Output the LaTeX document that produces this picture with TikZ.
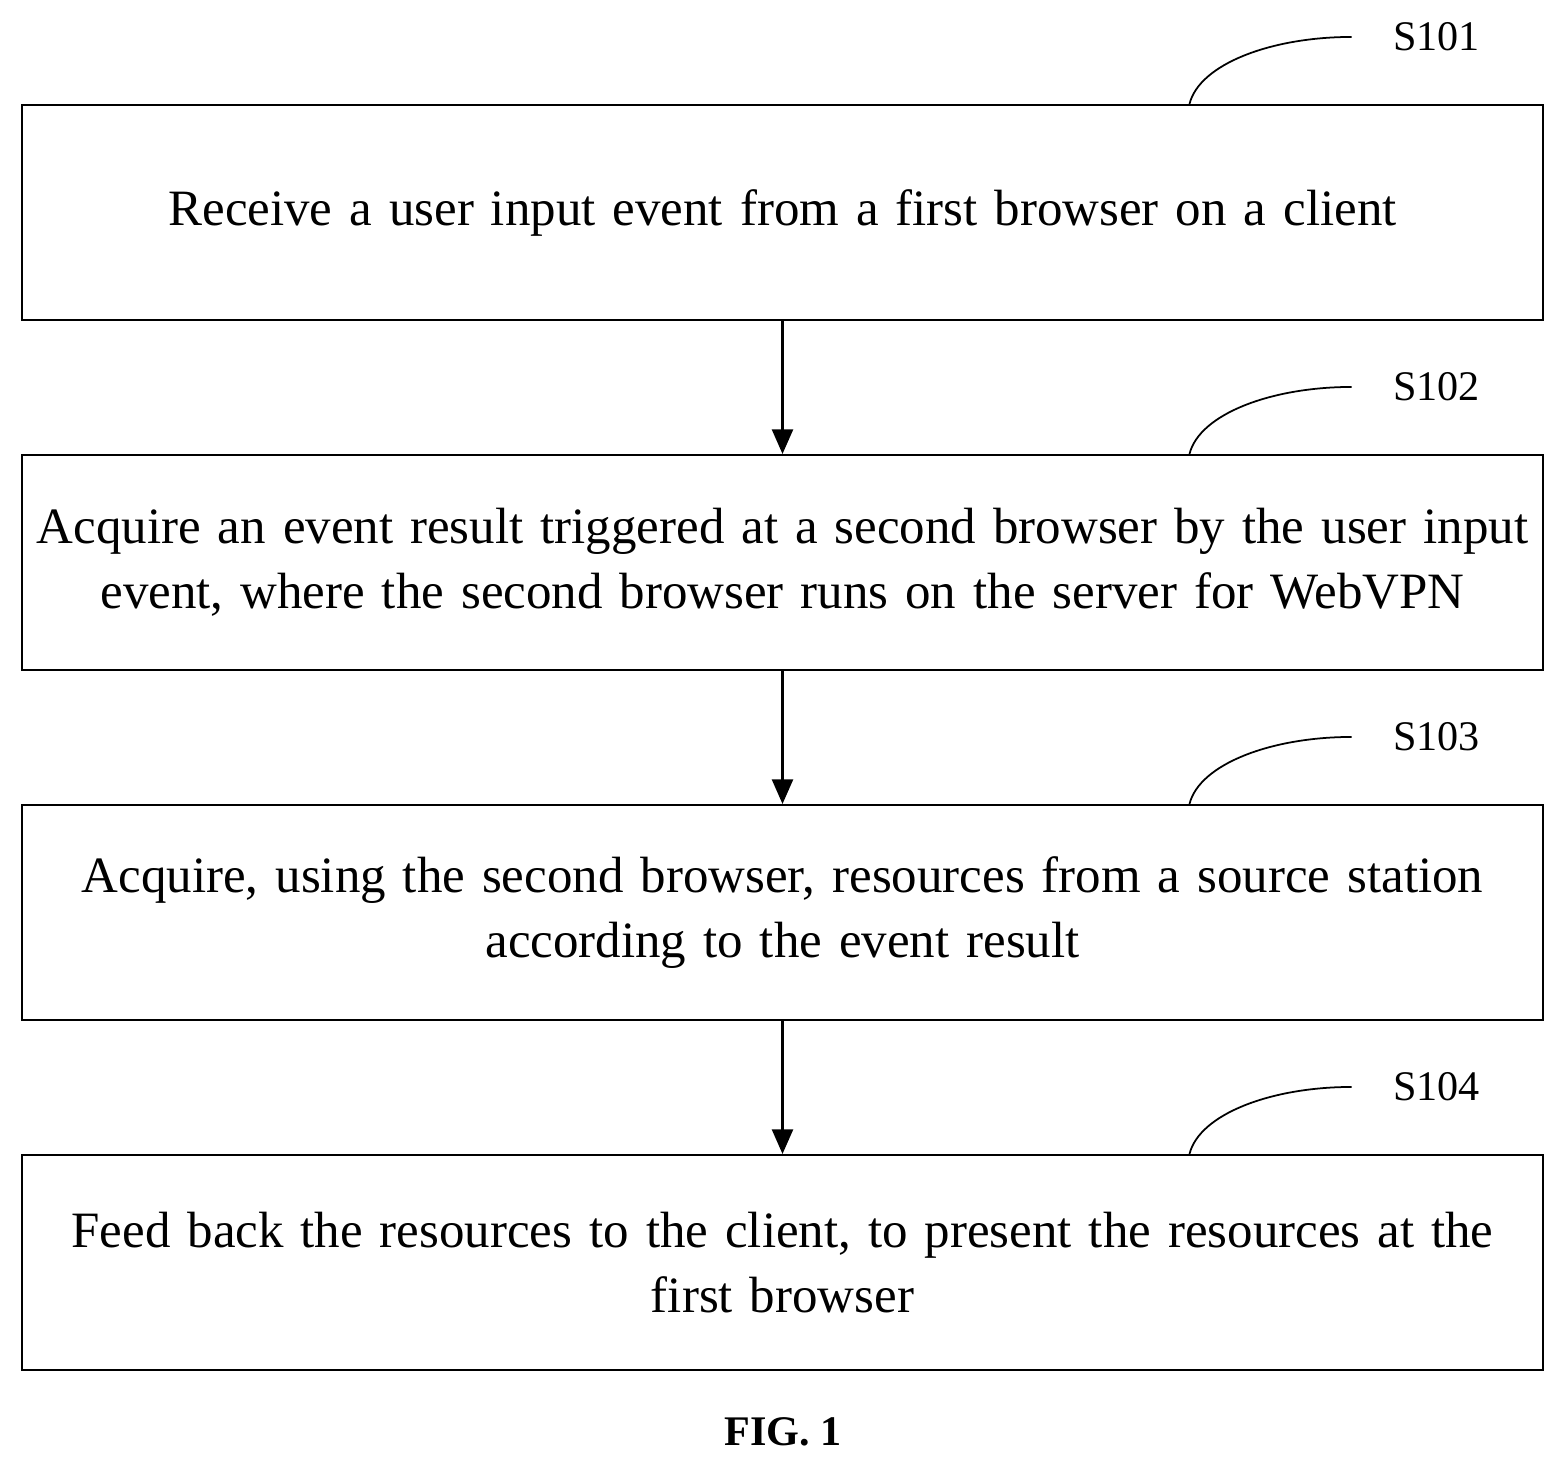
\documentclass[tikz,border=0pt]{standalone}
\usepackage{fontspec}
\setmainfont{Liberation Serif}
\usetikzlibrary{positioning,arrows.meta}
\begin{document}
\begin{tikzpicture}[x=0.02cm,y=-0.02cm,
    stepbox/.style={draw,line width=1.2pt,minimum width=1521*0.02cm,minimum height=215*0.02cm,
      align=center,text width=1521*0.02cm,font=\fontsize{29}{37}\selectfont,inner sep=0pt},
    tag/.style={font=\fontsize{24}{28}\selectfont},
    flow/.style={-{Triangle[length=14pt,width=12pt]},line width=1.2pt}
  ]
  \useasboundingbox (0,0) rectangle (1565,1468);
  \node[stepbox] (s1) at (782.5,212.5) {Receive a user input event from a first browser on a client};
  \node[stepbox] (s2) at (782.5,562.5) {Acquire an event result triggered at a second browser by the user input\\ event, where the second browser runs on the server for WebVPN};
  \node[stepbox] (s3) at (782.5,912.5) {Acquire, using the second browser, resources from a source station\\ according to the event result};
  \node[stepbox] (s4) at (782.5,1262.5) {Feed back the resources to the client, to present the resources at the\\ first browser};
  \foreach \a/\b in {s1/s2,s2/s3,s3/s4}
    \draw[flow] (\a.south) -- (\b.north);
  \foreach \s/\n in {s1/101,s2/102,s3/103,s4/104} {
    \node[tag] (l\n) at ([xshift=654*0.02cm,yshift=67*0.02cm]\s.north) {S\n};
    \draw[line width=1pt] ([xshift=407*0.02cm]\s.north) .. controls +(10,-40) and +(-80,0) .. ([xshift=-85*0.02cm]l\n.center);
  }
  \node[font=\bfseries\fontsize{24}{28}\selectfont] (fig) at (783,1432) {FIG. 1};
\end{tikzpicture}
\end{document}
